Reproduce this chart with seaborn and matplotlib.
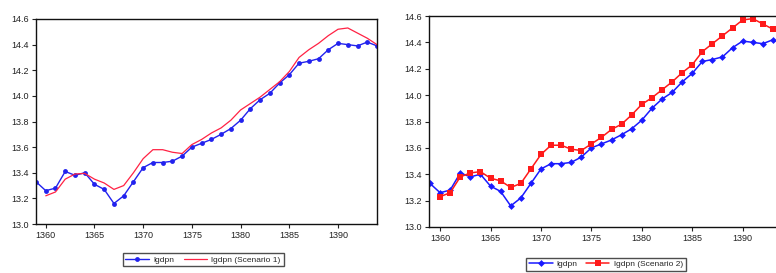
"""
Two panel comparison of lgdpn against scenario forecasts (EViews style).
"""

import pandas as pd
import matplotlib.pyplot as plt
import seaborn as sns

# Data
years = list(range(1359, 1395))
lgdpn = [13.33, 13.26, 13.28, 13.41, 13.38, 13.40, 13.31, 13.27, 13.16, 13.22,
         13.33, 13.44, 13.48, 13.48, 13.49, 13.53, 13.60, 13.63, 13.66, 13.70,
         13.745, 13.81, 13.90, 13.97, 14.02, 14.10, 14.165, 14.255, 14.27, 14.29,
         14.36, 14.41, 14.40, 14.39, 14.42, 14.39]
# scenarios start one year later (1360)
scenario1 = [13.22, 13.25, 13.35, 13.39, 13.395, 13.35, 13.32, 13.27, 13.30,
             13.40, 13.51, 13.58, 13.58, 13.56, 13.55, 13.62, 13.66, 13.71, 13.75,
             13.81, 13.89, 13.94, 13.99, 14.05, 14.11, 14.19, 14.30, 14.36, 14.41,
             14.47, 14.52, 14.53, 14.49, 14.45, 14.40]
scenario2 = [13.23, 13.26, 13.38, 13.41, 13.42, 13.37, 13.35, 13.30, 13.33,
             13.44, 13.55, 13.62, 13.62, 13.59, 13.58, 13.63, 13.68, 13.74, 13.78,
             13.85, 13.93, 13.98, 14.04, 14.10, 14.17, 14.23, 14.33, 14.39, 14.45,
             14.51, 14.57, 14.58, 14.54, 14.50, 14.48]
xticks = [1360, 1365, 1370, 1375, 1380, 1385, 1390]
yticks = [13.0, 13.2, 13.4, 13.6, 13.8, 14.0, 14.2, 14.4, 14.6]

base = pd.DataFrame({'year': years, 'value': lgdpn})
s1 = pd.DataFrame({'year': years[1:], 'value': scenario1})
s2 = pd.DataFrame({'year': years[1:], 'value': scenario2})

sns.set_style('white')
plt.rcParams['font.family'] = ['Liberation Sans', 'DejaVu Sans']

fig = plt.figure(figsize=(7.76, 2.73), dpi=100)
W, H = 776, 273
ax1 = fig.add_axes([36 / W, 1 - 224 / H, (377 - 36) / W, (224 - 19) / H])
ax2 = fig.add_axes([429 / W, 1 - 227 / H, (783 - 429) / W, (227 - 16) / H])

# Left panel
sns.lineplot(data=base, x='year', y='value', ax=ax1, color='#2222ee', lw=1,
             marker='o', markersize=3.5, markeredgewidth=0, label='lgdpn')
sns.lineplot(data=s1, x='year', y='value', ax=ax1, color='#ff2244', lw=0.9,
             label='lgdpn (Scenario 1)')

# Right panel
sns.lineplot(data=base, x='year', y='value', ax=ax2, color='#1a1aff', lw=1.1,
             marker='D', markersize=3.5, markeredgewidth=0, label='lgdpn')
sns.lineplot(data=s2, x='year', y='value', ax=ax2, color='#ff1a1a', lw=1.1,
             marker='s', markersize=4, markeredgewidth=0, label='lgdpn (Scenario 2)')

for ax in (ax1, ax2):
    ax.set_xlim(1359, 1394)
    ax.set_ylim(13.0, 14.6)
    ax.set_xticks(xticks)
    ax.set_yticks(yticks)
    ax.set_yticklabels([f'{v:.1f}' for v in yticks])
    ax.set_xlabel('')
    ax.set_ylabel('')
    ax.tick_params(axis='both', direction='out', length=3, width=0.8,
                   labelsize=6.5, pad=2, left=True, bottom=True, colors='#222222')
    for sp in ax.spines.values():
        sp.set_color('#111111')
        sp.set_linewidth(1)

ax2.set_xlim(1358.9, 1394)

ax1.legend(loc='upper center', bbox_to_anchor=(0.49, -0.12), ncol=2, fontsize=6,
           frameon=True, fancybox=False, edgecolor='#222222', handlelength=2.8,
           handletextpad=0.5, borderpad=0.35, columnspacing=1.2)
ax2.legend(loc='upper center', bbox_to_anchor=(0.5, -0.125), ncol=2, fontsize=6,
           frameon=True, fancybox=False, edgecolor='#222222', handlelength=2.8,
           handletextpad=0.5, borderpad=0.35, columnspacing=1.0)

fig.savefig('out.png', dpi=100)
plt.close(fig)
